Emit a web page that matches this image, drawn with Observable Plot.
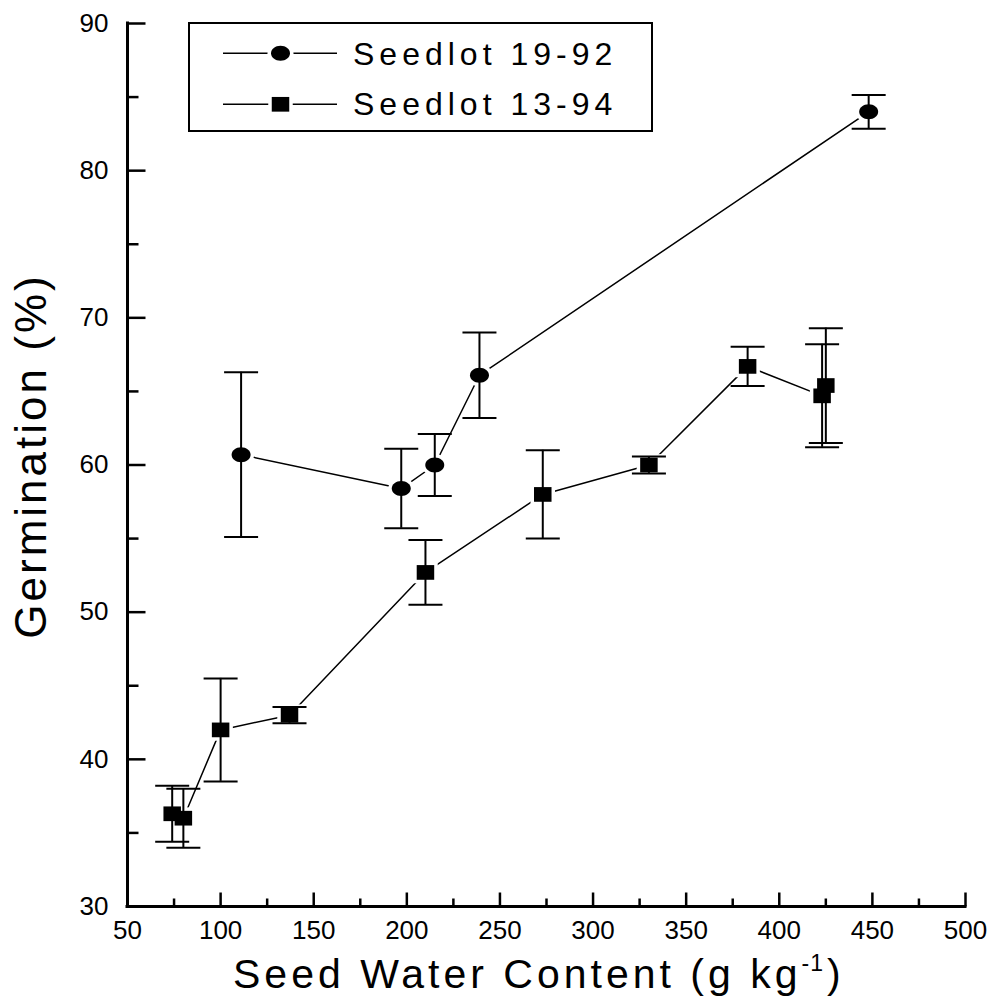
<!DOCTYPE html>
<html>
<head>
<meta charset="utf-8">
<script src="https://cdn.jsdelivr.net/npm/d3@7"></script>
<script src="https://cdn.jsdelivr.net/npm/@observablehq/plot@0.6"></script>
<style>
  body { margin: 0; background: #fff; }
  #chart { position: relative; width: 992px; height: 1004px; }
</style>
</head>
<body>
<div id="chart"></div>
<script>
// ---- Data ----
const seriesNames = ["Seedlot 19-92", "Seedlot 13-94"];

const water1 = [111, 197, 215, 239, 448];
const germ1  = [60.7, 58.4, 60.0, 66.1, 84.0];
const err1   = [5.6, 2.7, 2.1, 2.9, 1.15];

const water2 = [74, 80, 100, 137, 210, 273, 330, 383, 423, 425];
const germ2  = [36.3, 36.0, 42.0, 43.0, 52.7, 58.0, 60.0, 66.7, 64.7, 65.4];
const err2   = [1.9, 2.0, 3.5, 0.55, 2.2, 3.0, 0.57, 1.33, 3.5, 3.9];

const xTicks = [50, 100, 150, 200, 250, 300, 350, 400, 450, 500];
const xMinor = [75, 125, 175, 225, 275, 325, 375, 425, 475];
const yTicks = [30, 40, 50, 60, 70, 80, 90];
const yMinor = [35, 45, 55, 65, 75, 85];

const xTitle = "Seed Water Content (g kg";
const xTitleSup = "-1";
const xTitleEnd = ")";
const yTitle = "Germination (%)";

// ---- Build ----
const FONT = "'Liberation Sans', Arial, Helvetica, sans-serif";

const rows1 = water1.map((x, i) => ({series: seriesNames[0], x, y: germ1[i], e: err1[i]}));
const rows2 = water2.map((x, i) => ({series: seriesNames[1], x, y: germ2[i], e: err2[i]}));
const all = rows1.concat(rows2);

function ellipse(rx, ry) {
  const k = 0.5523;
  return {
    draw(ctx) {
      ctx.moveTo(rx, 0);
      ctx.bezierCurveTo(rx, ry * k, rx * k, ry, 0, ry);
      ctx.bezierCurveTo(-rx * k, ry, -rx, ry * k, -rx, 0);
      ctx.bezierCurveTo(-rx, -ry * k, -rx * k, -ry, 0, -ry);
      ctx.bezierCurveTo(rx * k, -ry, rx, -ry * k, rx, 0);
      ctx.closePath();
    }
  };
}
function box(w, h) {
  return { draw(ctx) { ctx.rect(-w / 2, -h / 2, w, h); } };
}
function hline(w) {
  return { draw(ctx) { ctx.moveTo(-w / 2, 0); ctx.lineTo(w / 2, 0); } };
}
function tickRight(len) {
  return { draw(ctx) { ctx.moveTo(0, 0); ctx.lineTo(len, 0); } };
}
function tickUp(len) {
  return { draw(ctx) { ctx.moveTo(0, 0); ctx.lineTo(0, -len); } };
}

const circleSym = ellipse(9.5, 7.5);
const circleHalo = ellipse(13, 11);
const squareSym = box(17.5, 14.7);
const squareHalo = box(24.5, 21.7);
const capSym = hline(34);

const xDom = [xTicks[0], xTicks[xTicks.length - 1]];
const yDom = [yTicks[0], yTicks[yTicks.length - 1]];

const plot = Plot.plot({
  width: 992,
  height: 1004,
  marginLeft: 127,
  marginRight: 27,
  marginTop: 23,
  marginBottom: 98,
  x: {domain: xDom},
  y: {domain: yDom},
  style: {fontFamily: FONT, fontSize: "26px", color: "#000", background: "#fff"},
  marks: [
    Plot.axisX({ticks: xTicks, tickSize: 0, tickPadding: 14, label: null, fontSize: 26}),
    Plot.axisY({ticks: yTicks, tickSize: 0, tickPadding: 19, label: null, fontSize: 26}),
    Plot.dot(xTicks, {x: d => d, frameAnchor: "bottom", symbol: tickUp(14), stroke: "#000", fill: "none", strokeWidth: 2.5}),
    Plot.dot(xMinor, {x: d => d, frameAnchor: "bottom", symbol: tickUp(8), stroke: "#000", fill: "none", strokeWidth: 2.5}),
    Plot.dot(yTicks, {y: d => d, frameAnchor: "left", symbol: tickRight(18), stroke: "#000", fill: "none", strokeWidth: 2.5}),
    Plot.dot(yMinor, {y: d => d, frameAnchor: "left", symbol: tickRight(11), stroke: "#000", fill: "none", strokeWidth: 2.5}),
    Plot.ruleX([xDom[0]], {y1: yDom[0], y2: yDom[1], strokeWidth: 3, strokeLinecap: "square"}),
    Plot.ruleY([yDom[0]], {x1: xDom[0], x2: xDom[1], strokeWidth: 3, strokeLinecap: "square"}),
    Plot.line(all, {x: "x", y: "y", z: "series", stroke: "#000", strokeWidth: 1.5}),
    Plot.dot(rows1, {x: "x", y: "y", symbol: circleHalo, fill: "#fff", stroke: "none"}),
    Plot.dot(rows2, {x: "x", y: "y", symbol: squareHalo, fill: "#fff", stroke: "none"}),
    Plot.dot(rows1, {x: "x", y: "y", symbol: circleSym, fill: "#000", stroke: "none"}),
    Plot.dot(rows2, {x: "x", y: "y", symbol: squareSym, fill: "#000", stroke: "none"}),
    Plot.ruleX(all, {x: "x", y1: d => d.y - d.e, y2: d => d.y + d.e, stroke: "#000", strokeWidth: 2}),
    Plot.dot(all, {x: "x", y: d => d.y + d.e, symbol: capSym, stroke: "#000", fill: "none", strokeWidth: 2}),
    Plot.dot(all, {x: "x", y: d => d.y - d.e, symbol: capSym, stroke: "#000", fill: "none", strokeWidth: 2})
  ]
});

document.getElementById("chart").appendChild(plot);

// ---- Titles & legend (appended to the Plot SVG) ----
const svg = d3.select(plot);

const xt = svg.append("text")
  .attr("x", 233).attr("y", 988)
  .attr("text-anchor", "start")
  .attr("font-family", FONT).attr("font-size", 41)
  .attr("letter-spacing", "4px").attr("fill", "#000");
xt.append("tspan").text(xTitle);
xt.append("tspan").attr("font-size", 23).attr("dy", -17).attr("letter-spacing", "1px").text(xTitleSup);
xt.append("tspan").attr("dy", 17).attr("dx", 3).text(xTitleEnd);

svg.append("text")
  .attr("transform", "translate(45.5,456) rotate(-90)")
  .attr("text-anchor", "middle")
  .attr("font-family", FONT).attr("font-size", 44)
  .attr("letter-spacing", "3px").attr("fill", "#000")
  .text(yTitle);

const lg = svg.append("g");
lg.append("rect").attr("x", 189).attr("y", 23).attr("width", 463).attr("height", 108)
  .attr("fill", "#fff").attr("stroke", "#000").attr("stroke-width", 2);
const legendRows = [
  {name: seriesNames[0], y: 53.3, base: 65, sym: circleSym, halo: circleHalo},
  {name: seriesNames[1], y: 104.3, base: 115, sym: squareSym, halo: squareHalo}
];
legendRows.forEach(r => {
  lg.append("line").attr("x1", 223).attr("x2", 337).attr("y1", r.y).attr("y2", r.y)
    .attr("stroke", "#000").attr("stroke-width", 1.5);
  lg.append("path").attr("d", d3.symbol(r.halo)()).attr("transform", `translate(280.5,${r.y})`).attr("fill", "#fff");
  lg.append("path").attr("d", d3.symbol(r.sym)()).attr("transform", `translate(280.5,${r.y})`).attr("fill", "#000");
  lg.append("text").attr("x", 353).attr("y", r.base)
    .attr("text-anchor", "start")
    .attr("font-family", FONT).attr("font-size", 32).attr("letter-spacing", "5px")
    .attr("fill", "#000").text(r.name);
});
</script>
</body>
</html>
